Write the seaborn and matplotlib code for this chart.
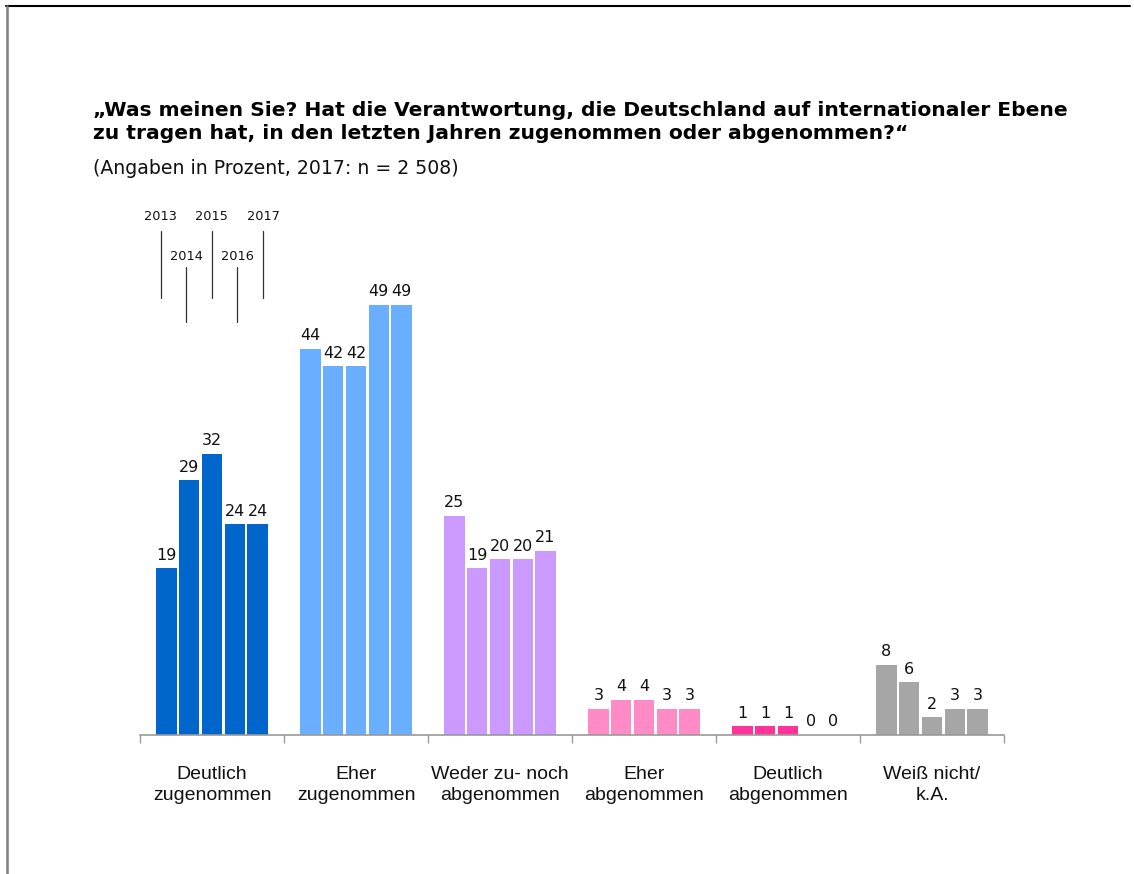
import matplotlib
matplotlib.use("Agg")
import matplotlib.pyplot as plt
from matplotlib.lines import Line2D
import seaborn as sns
import pandas as pd

# Survey answers and yearly shares (percent)
categories = ["Deutlich\nzugenommen", "Eher\nzugenommen", "Weder zu- noch\nabgenommen",
              "Eher\nabgenommen", "Deutlich\nabgenommen", "Weiß nicht/\nk.A."]
years = ["2013", "2014", "2015", "2016", "2017"]
v2013 = [19, 44, 25, 3, 1, 8]
v2014 = [29, 42, 19, 4, 1, 6]
v2015 = [32, 42, 20, 4, 1, 2]
v2016 = [24, 49, 20, 3, 0, 3]
v2017 = [24, 49, 21, 3, 0, 3]
category_colors = ["#0066CC", "#6AAFFF", "#CC99FF", "#FF8BC6", "#FF3399", "#A6A6A6"]

series = [v2013, v2014, v2015, v2016, v2017]
rows = []
for yr, vals in zip(years, series):
    for cat, v in zip(categories, vals):
        rows.append({"Kategorie": cat, "Jahr": yr, "Wert": v})
df = pd.DataFrame(rows)

sns.set_theme(style="white")
plt.rcParams["font.family"] = ["DejaVu Sans"]
ARIAL = ["Liberation Sans", "DejaVu Sans"]

W, H = 1134, 874
fig = plt.figure(figsize=(W / 100, H / 100), dpi=100)
ax_left, ax_right = 140, 1004
ax_top, ax_bottom = 200, 735
ax = fig.add_axes([ax_left / W, 1 - ax_bottom / H, (ax_right - ax_left) / W, (ax_bottom - ax_top) / H])

sns.barplot(data=df, x="Kategorie", y="Wert", hue="Jahr", order=categories, hue_order=years,
            width=0.79, gap=0.1, palette=["#888888"] * 5, legend=False, ax=ax,
            errorbar=None, linewidth=0)

px_per_unit = 8.78
ymax = (ax_bottom - ax_top) / px_per_unit
ax.set_ylim(0, ymax)
ax.set_xlim(-0.5, len(categories) - 0.5)

for cont in ax.containers:
    for i, bar in enumerate(cont):
        bar.set_facecolor(category_colors[i])
        bar.set_edgecolor("none")
    ax.bar_label(cont, padding=4, fontsize=11.5, color="#111111")

# Axis: only the baseline with group separators
for s in ["left", "right", "top"]:
    ax.spines[s].set_visible(False)
ax.spines["bottom"].set_color("#999999")
ax.spines["bottom"].set_linewidth(1.2)
ax.set_yticks([])
ax.set_ylabel("")
ax.set_xlabel("")
ax.set_xticks([i - 0.5 for i in range(len(categories) + 1)])
ax.set_xticklabels([])
ax.tick_params(axis="x", which="major", length=6, width=1, color="#999999", direction="out", bottom=True)
ax.set_xticks(range(len(categories)), minor=True)
ax.set_xticklabels(categories, minor=True, fontsize=14, color="#111111", linespacing=1.32,
                   family=ARIAL)
ax.tick_params(axis="x", which="minor", length=0, pad=22)

# Year markers above the first group: staggered labels with leader lines
def py(pix):
    return (ax_bottom - pix) / px_per_unit

marker_step = 0.178
marker_start = -0.357
for j, yr in enumerate(years):
    xc = marker_start + j * marker_step
    if j % 2 == 0:
        y0, y1, yl = py(298), py(231), py(216)
    else:
        y0, y1, yl = py(322), py(267), py(257)
    ax.plot([xc, xc], [y0, y1], color="#333333", lw=0.9, clip_on=False)
    ax.text(xc, yl, yr, ha="center", va="center", fontsize=9.3, color="#111111", clip_on=False)

# Title block
fig.text(93 / W, 1 - 101 / H,
         "„Was meinen Sie? Hat die Verantwortung, die Deutschland auf internationaler Ebene\n"
         "zu tragen hat, in den letzten Jahren zugenommen oder abgenommen?“",
         ha="left", va="top", fontsize=14.6, fontweight="bold", color="#000000", linespacing=1.25)
fig.text(93 / W, 1 - 159 / H, "(Angaben in Prozent, 2017: n = 2 508)",
         ha="left", va="top", fontsize=13.6, color="#111111")

# Frame lines
fig.add_artist(Line2D([6 / W, 1130 / W], [1 - 6 / H, 1 - 6 / H], color="#000000", lw=1.5))
fig.add_artist(Line2D([6.5 / W, 6.5 / W], [0, 1 - 6 / H], color="#7F7F7F", lw=1.8))

fig.savefig("out.png", dpi=100)
